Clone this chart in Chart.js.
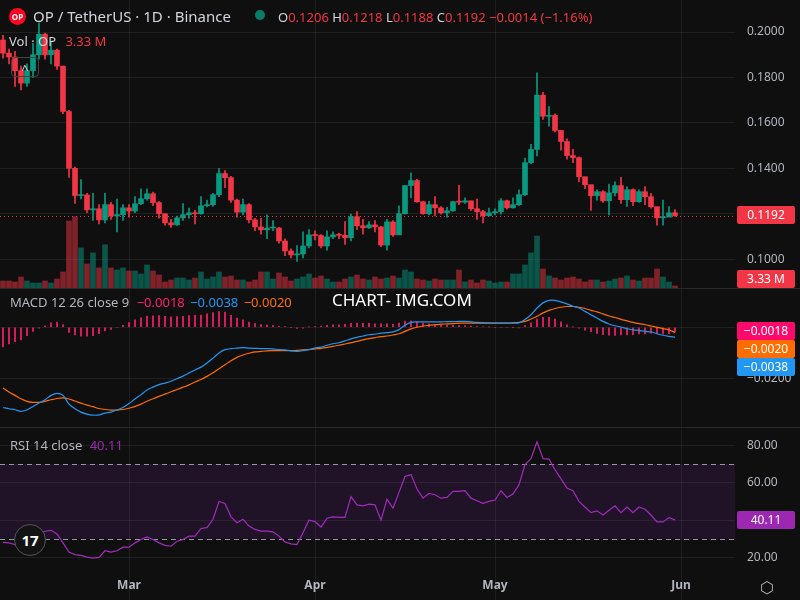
<!DOCTYPE html>
<html><head><meta charset="utf-8">
<script src="https://cdn.jsdelivr.net/npm/chart.js@4/dist/chart.umd.min.js"></script>
<style>
html,body{margin:0;padding:0;background:#0f0f0f;width:800px;height:600px;overflow:hidden;font-family:"Noto Sans",Roboto,sans-serif;}
.pane{position:absolute;left:0;width:800px;}
.t{position:absolute;white-space:nowrap;font-size:13px;}
.box{position:absolute;left:737px;width:58px;height:18px;line-height:18px;color:#fff;font-size:12px;text-align:center;border-radius:2px;}
.sep{position:absolute;left:0;width:800px;height:1px;background:#2a2a2a;}
.mon{position:absolute;top:576px;color:#b2b5be;font-size:12px;font-weight:bold;transform:translateX(-50%);}
</style></head><body>
<div class="pane" style="top:0;height:288px"><canvas id="pc" width="800" height="288"></canvas></div>
<div class="pane" style="top:289px;height:138px"><canvas id="mc" width="800" height="138"></canvas></div>
<div class="pane" style="top:428px;height:172px"><canvas id="rc" width="800" height="172"></canvas></div>
<div class="sep" style="top:288px"></div><div class="sep" style="top:427px"></div>
<div id="months"></div>

<div class="t" style="left:9px;top:8px;width:17px;height:17px;border-radius:50%;background:#ff0420;color:#fff;font-size:8px;font-weight:bold;text-align:center;line-height:17px;">OP</div>
<div class="t" style="left:33px;top:6px;color:#d1d4dc;font-size:15px;">OP / TetherUS · 1D · Binance</div>
<div class="t" style="left:255px;top:10px;width:10px;height:10px;border-radius:50%;background:#089981;opacity:.8"></div>
<div class="t" style="left:278px;top:8px;color:#d1d4dc;">O<span style="color:#f23645">0.1206</span> H<span style="color:#f23645">0.1218</span> L<span style="color:#f23645">0.1188</span> C<span style="color:#f23645">0.1192</span> <span style="color:#f23645">−0.0014 (−1.16%)</span></div>
<div class="t" style="left:9px;top:32px;color:#d1d4dc;">Vol · OP <span style="color:#f23645;margin-left:6px">3.33 M</span></div>
<div class="t" style="left:11px;top:57px;width:26px;height:18px;border:1px solid #444;border-radius:4px;color:#d1d4dc;text-align:center;line-height:22px;">^</div>
<div class="box" style="top:206px;background:#f23645">0.1192</div>
<div class="box" style="top:270px;background:#f23645">3.33 M</div>

<div class="t" style="left:10px;top:293px;color:#b2b5be;">MACD 12 26 close 9 <span style="color:#ff1f6a;margin-left:4px">−0.0018</span> <span style="color:#2196f3;margin-left:2px">−0.0038</span> <span style="color:#ff6d00;margin-left:2px">−0.0020</span></div>
<div class="t" style="left:332px;top:288px;color:#fff;font-size:17px;">CHART- IMG.COM</div>
<div class="box" style="top:322px;background:#ff0a6c">−0.0018</div>
<div class="box" style="top:340px;background:#ff6d00">−0.0020</div>
<div class="box" style="top:358px;background:#2196f3">−0.0038</div>

<div class="t" style="left:10px;top:436px;color:#b2b5be;">RSI 14 close <span style="color:#9c27b0;margin-left:4px">40.11</span></div>
<div class="box" style="top:511px;background:#9c27b0">40.11</div>
<div class="t" style="left:14px;top:524px;width:30px;height:30px;border-radius:50%;background:#131313;border:1px solid #555;color:#fff;font-weight:bold;font-size:15px;text-align:center;line-height:30px;">17</div>
<div class="t" style="left:760px;top:576px;color:#b2b5be;font-size:16px;">⬡</div>

<script>
const monthLabels = ["Mar","Apr","May","Jun"];
const monthIdx = [21,52,82,113];
const priceTicks = [0.10,0.12,0.14,0.16,0.18,0.20];
const macdTicks = [-0.02,0];
const rsiTicks = [20,40,60,80];
const firstOpen = 0.1965;
const closes = [0.1907,0.1890,0.1830,0.1775,0.1830,0.1900,0.1990,0.1900,0.1920,0.1850,
0.1650,0.1400,0.1280,0.1283,0.1217,0.1222,0.1173,0.1240,0.1190,0.1196,
0.1226,0.1212,0.1244,0.1266,0.1288,0.1249,0.1200,0.1160,0.1151,0.1182,
0.1196,0.1204,0.1200,0.1235,0.1240,0.1284,0.1377,0.1359,0.1260,0.1207,
0.1240,0.1173,0.1142,0.1129,0.1137,0.1137,0.1080,0.1036,0.1019,0.1023,
0.1058,0.1107,0.1104,0.1058,0.1098,0.1107,0.1105,0.1094,0.1187,0.1147,
0.1138,0.1151,0.1142,0.1062,0.1164,0.1107,0.1200,0.1324,0.1346,0.1253,
0.1200,0.1240,0.1226,0.1204,0.1213,0.1253,0.1251,0.1257,0.1222,0.1209,
0.1191,0.1204,0.1209,0.1257,0.1226,0.1240,0.1284,0.1425,0.1483,0.1722,
0.1629,0.1633,0.1567,0.1518,0.1456,0.1447,0.1363,0.1328,0.1279,0.1297,
0.1257,0.1292,0.1324,0.1262,0.1306,0.1253,0.1297,0.1275,0.1231,0.1182,
0.1185,0.1204,0.1192];
const highs = [0.1985,0.1925,0.1915,0.1850,0.1860,0.1950,0.2040,0.1995,0.1960,0.1925,
0.1850,0.1655,0.1405,0.1350,0.1290,0.1290,0.1240,0.1290,0.1250,0.1265,
0.1240,0.1240,0.1275,0.1310,0.1310,0.1295,0.1255,0.1200,0.1175,0.1190,
0.1245,0.1225,0.1215,0.1275,0.1260,0.1290,0.1400,0.1390,0.1365,0.1265,
0.1265,0.1245,0.1180,0.1180,0.1195,0.1170,0.1140,0.1090,0.1045,0.1060,
0.1120,0.1130,0.1125,0.1108,0.1125,0.1120,0.1115,0.1165,0.1198,0.1210,
0.1175,0.1165,0.1170,0.1145,0.1175,0.1170,0.1235,0.1325,0.1380,0.1352,
0.1255,0.1255,0.1275,0.1232,0.1228,0.1255,0.1325,0.1270,0.1250,0.1265,
0.1215,0.1225,0.1222,0.1267,0.1260,0.1270,0.1305,0.1445,0.1505,0.1820,
0.1735,0.1672,0.1640,0.1548,0.1530,0.1483,0.1450,0.1350,0.1295,0.1305,
0.1302,0.1330,0.1340,0.1360,0.1318,0.1310,0.1305,0.1320,0.1290,0.1205,
0.1260,0.1232,0.1218];
const lows = [0.1885,0.1860,0.1760,0.1745,0.1760,0.1800,0.1880,0.1880,0.1860,0.1835,
0.1640,0.1360,0.1245,0.1265,0.1205,0.1170,0.1155,0.1160,0.1175,0.1120,
0.1170,0.1185,0.1205,0.1240,0.1260,0.1235,0.1180,0.1150,0.1140,0.1148,
0.1170,0.1180,0.1155,0.1198,0.1230,0.1232,0.1275,0.1315,0.1250,0.1185,
0.1195,0.1160,0.1125,0.1110,0.1090,0.1125,0.1070,0.1015,0.1005,0.0990,
0.1005,0.1050,0.1085,0.1050,0.1040,0.1090,0.1090,0.1065,0.1080,0.1130,
0.1110,0.1135,0.1120,0.1055,0.1040,0.1100,0.1155,0.1198,0.1270,0.1250,
0.1198,0.1195,0.1190,0.1198,0.1185,0.1210,0.1240,0.1245,0.1215,0.1175,
0.1160,0.1190,0.1195,0.1198,0.1220,0.1225,0.1235,0.1280,0.1420,0.1455,
0.1615,0.1585,0.1560,0.1480,0.1440,0.1425,0.1340,0.1310,0.1215,0.1260,
0.1250,0.1195,0.1278,0.1245,0.1232,0.1235,0.1250,0.1240,0.1225,0.1150,
0.1150,0.1198,0.1188];
const volumesM = [11.2,11.2,9.6,17.6,11.2,8,8,11.2,8,14.4,
25.6,107,114,64,38.4,56,32,69,32,28.8,
32,27.2,27.2,22.4,36.8,27.2,20.8,9.6,12.8,16,
16,12.8,16,25.6,14.4,17.6,25.6,17.6,19.2,12.8,
12.8,9.6,12.8,25.6,25.6,14.4,24,17.6,11.2,14.4,
17.6,22.4,16,19.2,14.4,9.6,9.6,14.4,17.6,20.8,
14.4,12.8,17.6,14.4,16,19.2,16,28.8,25.6,14.4,
12.8,11.2,14.4,12.8,12.8,12.8,28.8,9.6,12.8,8,
12.8,11.2,8,9.6,9.6,22.4,22.4,36.8,56,83,
30.4,19.2,16,12.8,16,17.6,14.4,9.6,12.8,12.8,
9.6,11.2,14.4,16,19.2,12.8,11.2,16,16,30.4,
17.6,9.6,3.33];
const macdLine = [-0.0312,-0.0317,-0.0321,-0.0327,-0.0321,-0.0308,-0.0295,-0.0282,-0.0265,-0.0257,
-0.0265,-0.0299,-0.0317,-0.0330,-0.0338,-0.0342,-0.0341,-0.0334,-0.0330,-0.0322,
-0.0312,-0.0297,-0.0279,-0.0262,-0.0244,-0.0233,-0.0223,-0.0217,-0.0210,-0.0200,
-0.0190,-0.0178,-0.0166,-0.0155,-0.0139,-0.0120,-0.0100,-0.0087,-0.0083,-0.0081,
-0.0079,-0.0081,-0.0082,-0.0083,-0.0083,-0.0084,-0.0087,-0.0088,-0.0092,-0.0094,
-0.0091,-0.0086,-0.0081,-0.0077,-0.0070,-0.0064,-0.0060,-0.0053,-0.0045,-0.0039,
-0.0034,-0.0029,-0.0027,-0.0023,-0.0021,-0.0018,-0.0009,0.0008,0.0019,0.0021,
0.0021,0.0021,0.0021,0.0021,0.0022,0.0022,0.0023,0.0023,0.0021,0.0019,
0.0018,0.0017,0.0016,0.0016,0.0016,0.0016,0.0017,0.0030,0.0049,0.0075,
0.0095,0.0105,0.0105,0.0099,0.0091,0.0082,0.0075,0.0062,0.0049,0.0036,
0.0023,0.0013,0.0006,0.0001,-0.0005,-0.0010,-0.0012,-0.0016,-0.0018,-0.0025,
-0.0031,-0.0035,-0.0038];
const signalLine = [-0.0236,-0.0252,-0.0265,-0.0278,-0.0288,-0.0292,-0.0292,-0.0288,-0.0282,-0.0277,
-0.0275,-0.0279,-0.0287,-0.0295,-0.0303,-0.0309,-0.0316,-0.0320,-0.0322,-0.0322,
-0.0320,-0.0315,-0.0308,-0.0299,-0.0288,-0.0278,-0.0269,-0.0260,-0.0251,-0.0242,
-0.0233,-0.0224,-0.0213,-0.0203,-0.0191,-0.0177,-0.0161,-0.0146,-0.0130,-0.0117,
-0.0108,-0.0101,-0.0096,-0.0094,-0.0092,-0.0091,-0.0091,-0.0091,-0.0091,-0.0090,
-0.0088,-0.0087,-0.0084,-0.0082,-0.0078,-0.0074,-0.0070,-0.0065,-0.0060,-0.0055,
-0.0049,-0.0044,-0.0040,-0.0036,-0.0034,-0.0030,-0.0025,-0.0016,-0.0006,0.0000,
0.0005,0.0008,0.0010,0.0012,0.0013,0.0014,0.0016,0.0016,0.0016,0.0016,
0.0016,0.0016,0.0016,0.0016,0.0016,0.0017,0.0019,0.0023,0.0032,0.0043,
0.0056,0.0066,0.0073,0.0078,0.0081,0.0081,0.0078,0.0073,0.0066,0.0060,
0.0052,0.0044,0.0038,0.0031,0.0025,0.0019,0.0014,0.0010,0.0005,0.0000,
-0.0005,-0.0010,-0.0020];
const rsiValues = [28.1,27.8,26.9,26.0,28.7,30.5,32.3,34.0,34.5,32.6,
27.8,22.9,21.5,21.1,20.2,19.7,20.0,23.6,22.9,23.6,
25.5,25.5,27.8,29.6,31.0,29.6,27.8,26.5,26.0,28.7,
29.6,31.4,31.4,35.5,35.9,40.4,49.9,48.9,41.7,38.6,
40.4,36.8,35.0,34.1,34.1,33.7,31.4,28.3,27.3,26.9,
33.2,39.9,39.2,36.3,41.0,41.7,41.4,41.4,52.5,48.1,
47.6,48.5,48.1,39.9,51.2,46.3,54.8,63.3,64.3,56.6,
51.7,54.3,53.5,51.7,52.1,55.3,55.3,55.7,51.7,50.3,
48.9,50.0,50.7,55.7,52.1,53.9,58.9,69.7,72.8,81.8,
72.8,72.6,66.9,62.0,57.1,55.7,50.0,47.0,44.0,44.9,
42.7,45.2,47.6,44.0,47.0,44.0,47.0,45.8,42.7,39.0,
39.0,41.3,40.11];

const GREEN='#089981', RED='#f23645', GRID='rgba(255,255,255,0.07)', TXT='#b2b5be';
const opens = closes.map((c,i)=> i===0 ? firstOpen : closes[i-1]);
const up = closes.map((c,i)=> c>=opens[i]);
const idx = closes.map((_,i)=>i);
const fontTick = {family:'"Noto Sans", Roboto, sans-serif', size:12};

const X = {type:'linear', min:-0.5, max:122, display:false, offset:false, bounds:'data'};
const monthGrid = {id:'monthGrid', beforeDatasetsDraw(ch){
  const c=ch.ctx, x=ch.scales.x; c.save(); c.strokeStyle=GRID; c.lineWidth=1;
  monthIdx.forEach(v=>{const p=Math.round(x.getPixelForValue(v))+0.5; c.beginPath(); c.moveTo(p,0); c.lineTo(p,ch.height); c.stroke();});
  c.restore();
}};
function yRight(min,max,list,fmt){
  return {position:'right', min, max,
    afterBuildTicks:s=>{s.ticks=list.map(v=>({value:v}));},
    grid:{color:GRID, drawTicks:false}, border:{display:false},
    ticks:{color:TXT, font:fontTick, padding:12, callback:fmt},
    afterFit:s=>{s.width=65; s.paddingTop=0; s.paddingBottom=0;}};
}
const base = {responsive:false, animation:false, devicePixelRatio:1,
  layout:{padding:0, autoPadding:false}, plugins:{legend:{display:false}, tooltip:{enabled:false}}};

const lastLine = {id:'lastLine', afterDatasetsDraw(ch){
  const y = ch.scales.y.getPixelForValue(closes[closes.length-1]);
  const c = ch.ctx; c.save(); c.strokeStyle=RED; c.setLineDash([1,3]); c.lineWidth=1;
  c.beginPath(); c.moveTo(0,Math.round(y)+0.5); c.lineTo(ch.chartArea.right,Math.round(y)+0.5); c.stroke(); c.restore();
}};
new Chart(document.getElementById('pc'), {
  type:'bar',
  data:{datasets:[
    {data:idx.map(i=>({x:i,y:volumesM[i]})), yAxisID:'v', barThickness:5, grouped:false, order:3,
     backgroundColor:idx.map(i=>up[i]?'rgba(8,153,129,0.5)':'rgba(242,54,69,0.5)')},
    {data:idx.map(i=>({x:i,y:[lows[i],highs[i]]})), yAxisID:'y', barThickness:1, grouped:false, order:2,
     backgroundColor:idx.map(i=>up[i]?GREEN:RED)},
    {data:idx.map(i=>({x:i,y:[opens[i],closes[i]]})), yAxisID:'y', barThickness:5, grouped:false, order:1, minBarLength:1,
     backgroundColor:idx.map(i=>up[i]?GREEN:RED)}
  ]},
  options:{...base,
    scales:{x:X,
      y:yRight(0.0873,0.2141,priceTicks,v=>v.toFixed(4)),
      v:{display:false, min:0, max:460}}},
  plugins:[monthGrid,lastLine]
});

new Chart(document.getElementById('mc'), {
  type:'bar',
  data:{datasets:[
    {type:'line', data:idx.map(i=>({x:i,y:macdLine[i]})), borderColor:'#2196f3', borderWidth:1.2, pointRadius:0, tension:0.3, order:1},
    {type:'line', data:idx.map(i=>({x:i,y:signalLine[i]})), borderColor:'#ff6d00', borderWidth:1.2, pointRadius:0, tension:0.3, order:2},
    {data:idx.map(i=>({x:i,y:macdLine[i]-signalLine[i]})), backgroundColor:'#ff1f6a', barThickness:1, order:3}
  ]},
  options:{...base,
    scales:{x:X, y:yRight(-0.0388,0.0149,macdTicks,v=>v.toFixed(4).replace('-','−'))}},
  plugins:[monthGrid]
});

const band = {id:'band', beforeDatasetsDraw(ch){
  const y=ch.scales.y, a=ch.chartArea, c=ch.ctx;
  const y70=y.getPixelForValue(70), y30=y.getPixelForValue(30);
  c.save(); c.fillStyle='rgba(126,40,170,0.16)'; c.fillRect(a.left,y70,a.right-a.left,y30-y70);
  c.strokeStyle='#9598a1'; c.setLineDash([5,4]); c.lineWidth=1;
  [y70,y30].forEach(p=>{c.beginPath();c.moveTo(a.left,Math.round(p)+0.5);c.lineTo(a.right,Math.round(p)+0.5);c.stroke();});
  c.restore();
}};
const rsiChart = new Chart(document.getElementById('rc'), {
  type:'line',
  data:{datasets:[{data:idx.map(i=>({x:i,y:rsiValues[i]})), borderColor:'#a12cbd', borderWidth:1.2, pointRadius:0, tension:0}]},
  options:{...base, layout:{padding:{bottom:30}, autoPadding:false},
    scales:{x:X, y:yRight(13.3,89.2,rsiTicks,v=>v.toFixed(2))}},
  plugins:[monthGrid,band]
});
const xs = rsiChart.scales.x, mdiv=document.getElementById('months');
monthIdx.forEach((v,k)=>{const d=document.createElement('div'); d.className='mon'; d.textContent=monthLabels[k];
  d.style.left=xs.getPixelForValue(v)+'px'; mdiv.appendChild(d);});
</script>
</body></html>
